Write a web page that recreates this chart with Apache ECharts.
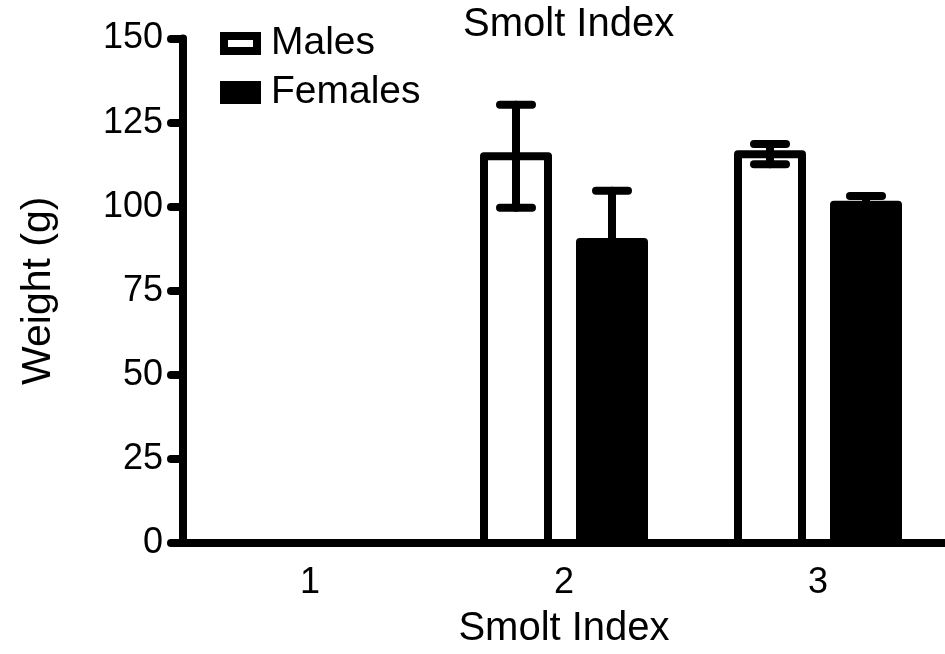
<!DOCTYPE html>
<html>
<head>
<meta charset="utf-8">
<script src="https://cdn.jsdelivr.net/npm/echarts@6/dist/echarts.min.js"></script>
<style>html,body{margin:0;padding:0;background:#fff;}#c{width:945px;height:654px;}</style>
</head>
<body>
<div id="c"></div>
<script>
const categories = ['1', '2', '3'];
const malesMean = [null, 115, 115.6];
const malesErr = [null, 15.3, 3];
const femalesMean = [null, 89.5, 100.6];
const femalesErr = [null, 15.2, 2.6];
const yTicks = [0, 25, 50, 75, 100, 125, 150];

const FONT = '"Liberation Sans", Arial, sans-serif';

function barData(mean) {
  const out = [];
  mean.forEach((m, i) => { if (m != null) out.push([i, m]); });
  return out;
}
function errData(mean, err) {
  const out = [];
  mean.forEach((m, i) => { if (m != null) out.push([i, m - err[i], m + err[i]]); });
  return out;
}
function barRender(offset, fill) {
  return function (params, api) {
    const i = api.value(0);
    const top = api.coord([i, api.value(1)]);
    const base = api.coord([i, 0]);
    const x = top[0] + offset;
    return {
      type: 'rect',
      shape: { x: x - 32, y: top[1], width: 64, height: base[1] - top[1] },
      style: { fill: fill, stroke: '#000', lineWidth: 8, lineJoin: 'round' }
    };
  };
}
function errRender(offset) {
  return function (params, api) {
    const i = api.value(0);
    const top = api.coord([i, api.value(2)]);
    const bot = api.coord([i, api.value(1)]);
    const x = top[0] + offset;
    const st = { stroke: '#000', lineWidth: 8, lineCap: 'round' };
    return {
      type: 'group',
      children: [
        { type: 'line', shape: { x1: x, y1: top[1], x2: x, y2: bot[1] }, style: st },
        { type: 'line', shape: { x1: x - 16, y1: top[1], x2: x + 16, y2: top[1] }, style: st },
        { type: 'line', shape: { x1: x - 16, y1: bot[1], x2: x + 16, y2: bot[1] }, style: st }
      ]
    };
  };
}

const chart = echarts.init(document.getElementById('c'));
chart.setOption({
  animation: false,
  backgroundColor: '#fff',
  textStyle: { fontFamily: FONT, color: '#000' },
  title: {
    text: 'Smolt Index', left: 458, top: 0,
    textStyle: { fontFamily: FONT, fontSize: 40, fontWeight: 'normal', color: '#000' }
  },
  legend: {
    orient: 'vertical', left: 220, top: 24, itemGap: 10, padding: 0,
    itemWidth: 33, itemHeight: 15, icon: 'rect',
    data: [
      { name: 'Males', itemStyle: { color: '#fff', borderColor: '#000', borderWidth: 8 } },
      { name: 'Females', itemStyle: { color: '#000', borderColor: '#000', borderWidth: 8 } }
    ],
    textStyle: { fontFamily: FONT, fontSize: 39, color: '#000', padding: [0, 0, 0, 9] }
  },
  grid: { left: 183, right: 0, top: 38.5, bottom: 107, containLabel: false },
  xAxis: {
    type: 'category', data: categories,
    name: 'Smolt Index', nameLocation: 'middle', nameGap: 66,
    nameTextStyle: { fontFamily: FONT, fontSize: 40, color: '#000' },
    axisLine: { lineStyle: { color: '#000', width: 8, cap: 'round' } },
    axisTick: { alignWithLabel: true, length: 11, lineStyle: { color: '#000', width: 8, cap: 'round' } },
    axisLabel: { fontFamily: FONT, fontSize: 36, color: '#000', margin: 22 }
  },
  yAxis: {
    type: 'value', min: 0, max: 150, interval: 25,
    name: 'Weight (g)', nameLocation: 'middle', nameGap: 124,
    nameTextStyle: { fontFamily: FONT, fontSize: 41, color: '#000' },
    axisLine: { show: true, lineStyle: { color: '#000', width: 8, cap: 'round' } },
    axisTick: { show: true, length: 12, lineStyle: { color: '#000', width: 8, cap: 'round' } },
    axisLabel: { fontFamily: FONT, fontSize: 36, color: '#000', margin: 20,
      formatter: v => yTicks.includes(v) ? String(v) : '' },
    splitLine: { show: false }
  },
  series: [
    { name: 'Males', type: 'custom', data: barData(malesMean), renderItem: barRender(-48, '#fff'),
      itemStyle: { color: '#fff', borderColor: '#000', borderWidth: 8 }, z: 3 },
    { name: 'Females', type: 'custom', data: barData(femalesMean), renderItem: barRender(48, '#000'),
      itemStyle: { color: '#000', borderColor: '#000', borderWidth: 8 }, z: 3 },
    { type: 'custom', data: errData(malesMean, malesErr), renderItem: errRender(-48), z: 5 },
    { type: 'custom', data: errData(femalesMean, femalesErr), renderItem: errRender(48), z: 5 }
  ]
});
</script>
</body>
</html>
